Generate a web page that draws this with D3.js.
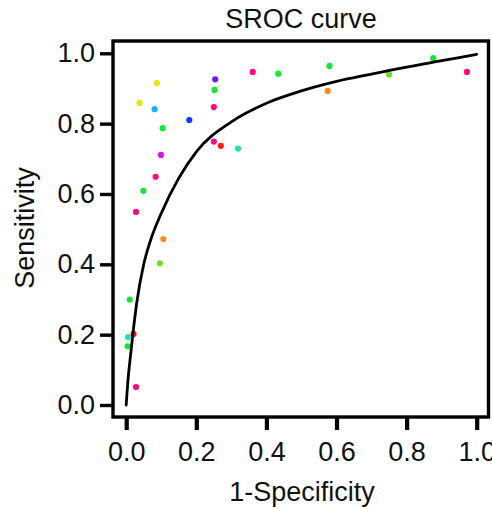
<!DOCTYPE html>
<html>
<head>
<meta charset="utf-8">
<script src="https://cdn.jsdelivr.net/npm/d3@7"></script>
<style>
  html, body { margin: 0; padding: 0; background: #fff; }
  svg { display: block; }
  text { font-family: "Liberation Sans", Arial, sans-serif; fill: #111; }
</style>
</head>
<body>
<div id="chart"></div>
<script>
// ---- data ----
const fpr = [0.0875, 0.254, 0.252, 0.038, 0.081, 0.250, 0.180, 0.104, 0.250, 0.270,
             0.319, 0.099, 0.361, 0.434, 0.580, 0.575, 0.750, 0.876, 0.972, 0.084,
             0.049, 0.028, 0.106, 0.096, 0.010, 0.005, 0.021, 0.004, 0.028];
const tpr = [0.915, 0.926, 0.896, 0.859, 0.841, 0.847, 0.810, 0.787, 0.749, 0.737,
             0.729, 0.711, 0.947, 0.942, 0.964, 0.893, 0.940, 0.986, 0.947, 0.649,
             0.609, 0.549, 0.472, 0.403, 0.300, 0.193, 0.202, 0.167, 0.051];
const pointColors = ["#e6e600", "#6a1aff", "#14e632", "#e6e600", "#1ab2ff", "#ff0a7a", "#0a3cff", "#14e632", "#ff0a7a", "#ff1a1a",
                     "#1ae6b0", "#dd11ee", "#ff0a7a", "#14e632", "#14e632", "#ff8c1a", "#66e61a", "#14e632", "#ff0a7a", "#ff0a7a",
                     "#14e632", "#ff0a7a", "#ff8c1a", "#66e61a", "#14e632", "#1ae6b0", "#ff1a1a", "#14e632", "#ff0a7a"];
const curveX = [0, 0.002, 0.005, 0.01, 0.02, 0.03, 0.05, 0.07, 0.1, 0.15, 0.2, 0.3, 0.4, 0.5, 0.6, 0.7, 0.8, 0.9, 1.0];
const curveY = [0, 0.03, 0.07, 0.12, 0.21, 0.29, 0.40, 0.47, 0.545, 0.645, 0.72, 0.805, 0.858, 0.893, 0.92, 0.941, 0.961, 0.979, 0.997];
const xTicks = [0, 0.2, 0.4, 0.6, 0.8, 1.0];
const yTicks = [0, 0.2, 0.4, 0.6, 0.8, 1.0];
const titleText = "SROC curve";
const xLabel = "1-Specificity";
const yLabel = "Sensitivity";

// ---- layout ----
const W = 492, H = 509;
const box = { left: 113, right: 488.5, top: 41, bottom: 417 };
const x = d3.scaleLinear().domain([0, 1]).range([126.2, 476.7]);
const y = d3.scaleLinear().domain([0, 1]).range([405, 53.3]);

const svg = d3.select("#chart").append("svg").attr("width", W).attr("height", H);

// points
svg.append("g").selectAll("circle")
  .data(fpr.map((d, i) => ({ x: d, y: tpr[i], c: pointColors[i] })))
  .join("circle")
  .attr("cx", d => x(d.x)).attr("cy", d => y(d.y)).attr("r", 3.1)
  .attr("fill", d => d.c);

// curve
const line = d3.line().x(d => x(d[0])).y(d => y(d[1])).curve(d3.curveMonotoneX);
svg.append("path")
  .datum(curveX.map((d, i) => [d, curveY[i]]))
  .attr("d", line).attr("fill", "none").attr("stroke", "#000")
  .attr("stroke-width", 2.8).attr("stroke-linecap", "round");

// box
svg.append("rect")
  .attr("x", box.left).attr("y", box.top)
  .attr("width", box.right - box.left).attr("height", box.bottom - box.top)
  .attr("fill", "none").attr("stroke", "#000").attr("stroke-width", 3.4);

// x axis
const xAxis = d3.axisBottom(x).tickValues(xTicks).tickFormat(d3.format(".1f"))
  .tickSizeOuter(0).tickSize(13).tickPadding(12);
const gx = svg.append("g").attr("transform", `translate(0,${box.bottom})`).call(xAxis);
gx.select(".domain").remove();
gx.selectAll(".tick line").attr("stroke", "#000").attr("stroke-width", 4.2);
gx.selectAll(".tick text").attr("font-size", 27).attr("fill", "#111")
  .attr("font-family", "'Liberation Sans', Arial, sans-serif");

// y axis
const yAxis = d3.axisLeft(y).tickValues(yTicks).tickFormat(d3.format(".1f"))
  .tickSizeOuter(0).tickSize(13).tickPadding(5);
const gy = svg.append("g").attr("transform", `translate(${box.left},0)`).call(yAxis);
gy.select(".domain").remove();
gy.selectAll(".tick line").attr("stroke", "#000").attr("stroke-width", 3.4);
gy.selectAll(".tick text").attr("font-size", 27).attr("fill", "#111")
  .attr("font-family", "'Liberation Sans', Arial, sans-serif");

// title
svg.append("text").attr("x", 301).attr("y", 28).attr("text-anchor", "middle")
  .attr("font-size", 27).text(titleText);

// axis labels
svg.append("text").attr("x", 302).attr("y", 501).attr("text-anchor", "middle")
  .attr("font-size", 27).text(xLabel);
svg.append("text").attr("transform", "translate(34,228) rotate(-90)")
  .attr("text-anchor", "middle").attr("font-size", 27).text(yLabel);
</script>
</body>
</html>
